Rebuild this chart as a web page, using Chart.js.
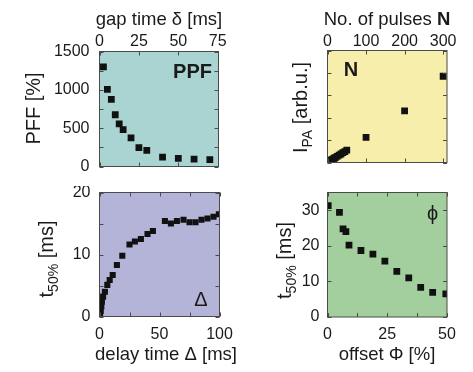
<!DOCTYPE html>
<html>
<head>
<meta charset="utf-8">
<script src="https://cdn.jsdelivr.net/npm/chart.js@4.4.0/dist/chart.umd.min.js"></script>
<style>
  html, body { margin: 0; padding: 0; background: #fff; }
  #wrap { position: relative; width: 473px; height: 372px; }
  canvas { position: absolute; }
</style>
</head>
<body>
<div id="wrap">
  <canvas id="ppfChart" width="240" height="186" style="left:0;top:0"></canvas>
  <canvas id="pulseChart" width="233" height="186" style="left:240px;top:0"></canvas>
  <canvas id="delayChart" width="240" height="186" style="left:0;top:186px"></canvas>
  <canvas id="offsetChart" width="233" height="186" style="left:240px;top:186px"></canvas>
</div>
<script>
// top left: facilitation vs gap time
const gapTime = [2.5, 5, 7.5, 10, 12.5, 15, 20, 25, 30, 40, 50, 60, 70];
const ppfValues = [1300, 1005, 875, 675, 555, 480, 372, 245, 210, 122, 105, 95, 90];
const gapTicks = [0, 25, 50, 75];
const ppfTicks = [0, 250, 500, 750, 1000, 1250, 1500];

// top right: intensity vs number of pulses
const pulseCount = [1, 2, 4, 6, 8, 10, 12, 15, 18, 20, 25, 30, 35, 40, 45, 50, 100, 200, 300];
const pulseIntensity = [0.01, 0.02, 0.04, 0.06, 0.08, 0.1, 0.13, 0.16, 0.2, 0.22, 0.27, 0.33, 0.38, 0.44, 0.49, 0.55, 1.12, 2.3, 3.85];
const pulseTicks = [0, 100, 200, 300];
const intensityTicks = [0, 1, 2, 3, 4, 5];

// bottom left: t50% vs delay time
const delayTime = [0.5, 1, 1.5, 2, 3, 4.5, 6.5, 8.5, 11, 14.5, 19, 25, 29.5, 34.5, 40, 44.5, 54.5, 59.5, 64.5, 70, 75, 80, 85, 90, 95, 99.5];
const t50Delay = [0.5, 0.9, 1.6, 2.4, 3.2, 4.0, 5.1, 5.9, 6.7, 8.3, 9.8, 11.6, 12.1, 12.5, 13.3, 13.8, 15.4, 15.0, 15.4, 15.6, 15.2, 15.2, 15.6, 15.8, 16.1, 16.5];
const delayTicks = [0, 25, 50, 75, 100];
const t50DelayTicks = [0, 5, 10, 15, 20];

// bottom right: t50% vs offset
const offsetPhi = [0.3, 5, 6.5, 7.7, 9, 14, 19, 24, 29, 34, 39, 44, 49.5];
const t50Offset = [31.3, 29.4, 24.8, 24.0, 20.2, 18.7, 17.7, 15.7, 12.8, 11.0, 8.3, 6.9, 6.5];
const offsetTicks = [0, 12.5, 25, 37.5, 50];
const t50OffsetTicks = [0, 10, 20, 30];

const FONT = "'Liberation Sans', Arial, sans-serif";
const textColor = '#1a1a1a';
const tickFont = { family: FONT, size: 16 };
const xTitle = '18.5px ' + FONT;
const yTitle = '20px ' + FONT;
const subFont = '14px ' + FONT;

function drawRich(ctx, item) {
  ctx.save();
  ctx.translate(item.x, item.y);
  if (item.rot) ctx.rotate(-Math.PI / 2);
  ctx.fillStyle = textColor;
  ctx.textBaseline = 'alphabetic';
  ctx.textAlign = 'left';
  let total = 0;
  item.parts.forEach(p => { ctx.font = p.f; total += ctx.measureText(p.t).width; });
  let pos = -total / 2;
  item.parts.forEach(p => {
    ctx.font = p.f;
    ctx.fillText(p.t, pos, p.dy || 0);
    pos += ctx.measureText(p.t).width;
  });
  ctx.restore();
}

const panelPlugin = {
  id: 'panel',
  beforeDraw(chart, args, opts) {
    const { ctx, chartArea: a } = chart;
    ctx.save();
    ctx.fillStyle = opts.bg;
    ctx.fillRect(a.left, a.top, a.right - a.left, a.bottom - a.top);
    ctx.restore();
  },
  afterDatasetsDraw(chart) {
    const { ctx, chartArea: a, scales } = chart;
    const len = 4;
    ctx.save();
    ctx.strokeStyle = '#4a4a4a';
    ctx.lineWidth = 1;
    ctx.beginPath();
    scales.x.ticks.forEach(t => {
      const px = Math.round(scales.x.getPixelForValue(t.value)) + 0.5;
      ctx.moveTo(px, a.top); ctx.lineTo(px, a.top + len);
      ctx.moveTo(px, a.bottom); ctx.lineTo(px, a.bottom - len);
    });
    scales.y.ticks.forEach(t => {
      const py = Math.round(scales.y.getPixelForValue(t.value)) + 0.5;
      ctx.moveTo(a.left, py); ctx.lineTo(a.left + len, py);
      ctx.moveTo(a.right, py); ctx.lineTo(a.right - len, py);
    });
    ctx.stroke();
    ctx.strokeRect(a.left, a.top, a.right - a.left, a.bottom - a.top);
    ctx.restore();
  },
  afterDraw(chart, args, opts) {
    opts.texts.forEach(item => drawRich(chart.ctx, item));
  }
};

function axis(o) {
  const horizontal = o.position === 'top' || o.position === 'bottom';
  return {
    type: 'linear',
    position: o.position,
    bounds: 'data',
    min: o.min,
    max: o.max,
    grid: { display: false, drawTicks: false },
    border: { display: false },
    ticks: {
      display: o.labelEvery !== null,
      autoSkip: false,
      maxRotation: 0,
      padding: o.pad,
      font: tickFont,
      color: textColor,
      callback: v => (o.labelEvery && Math.abs(v % o.labelEvery) < 1e-6 ? v : '')
    },
    afterBuildTicks(s) {
      s.ticks = o.values.map(v => ({ value: v }));
    },
    afterFit(s) {
      if (horizontal) s.height = o.size; else s.width = o.size;
      s.paddingLeft = 0; s.paddingRight = 0; s.paddingTop = 0; s.paddingBottom = 0;
    }
  };
}

function makeChart(id, xs, ys, radius, scales, padding, bg, texts) {
  return new Chart(document.getElementById(id), {
    type: 'scatter',
    data: {
      datasets: [{
        data: xs.map((x, i) => ({ x: x, y: ys[i] })),
        pointStyle: 'rect',
        pointRadius: radius,
        pointBackgroundColor: '#111',
        pointBorderWidth: 0,
        clip: 0
      }]
    },
    options: {
      responsive: false,
      animation: false,
      devicePixelRatio: 1,
      events: [],
      layout: { padding: padding },
      plugins: {
        legend: { display: false },
        tooltip: { enabled: false },
        panel: { bg: bg, texts: texts }
      },
      scales: scales
    },
    plugins: [panelPlugin]
  });
}

makeChart('ppfChart', gapTime, ppfValues, 4.8, {
  x: axis({ position: 'top', min: 0, max: 75.5, values: gapTicks, labelEvery: 25, pad: 0, size: 51.5 }),
  y: axis({ position: 'left', min: 0, max: 1500, values: ppfTicks, labelEvery: 500, pad: 10, size: 99.5 })
}, { left: 0, top: 0, right: 21.5, bottom: 19.5 }, '#a9d4d2', [
  { x: 159, y: 25, parts: [{ t: 'gap time δ [ms]', f: xTitle }] },
  { x: 39.5, y: 108.5, rot: true, parts: [{ t: 'PFF [%]', f: yTitle }] },
  { x: 192.5, y: 77.5, parts: [{ t: 'PPF', f: 'bold 20px ' + FONT }] }
]);

makeChart('pulseChart', pulseCount, pulseIntensity, 4.8, {
  x: axis({ position: 'top', min: 0, max: 310, values: pulseTicks, labelEvery: 100, pad: -1, size: 50.5 }),
  y: axis({ position: 'left', min: 0, max: 5, values: intensityTicks, labelEvery: null, pad: 0, size: 87.5 })
}, { left: 0, top: 0, right: 26, bottom: 23.5 }, '#f6eeaa', [
  { x: 147, y: 25, parts: [{ t: 'No. of pulses ', f: xTitle }, { t: 'N', f: 'bold 18.5px ' + FONT }] },
  { x: 67, y: 107.5, rot: true, parts: [{ t: 'I', f: yTitle }, { t: 'PA', f: subFont, dy: 5 }, { t: ' [arb.u.]', f: yTitle }] },
  { x: 111, y: 75.5, parts: [{ t: 'N', f: 'bold 20px ' + FONT }] }
]);

makeChart('delayChart', delayTime, t50Delay, 4.3, {
  x: axis({ position: 'bottom', min: 0, max: 100, values: delayTicks, labelEvery: 50, pad: 8, size: 55.5 }),
  y: axis({ position: 'left', min: 0, max: 20, values: t50DelayTicks, labelEvery: 10, pad: 9, size: 99.5 })
}, { left: 0, top: 6.5, right: 20.5, bottom: 0 }, '#b4b4d8', [
  { x: 166, y: 174, parts: [{ t: 'delay time Δ [ms]', f: xTitle }] },
  { x: 52.5, y: 73, rot: true, parts: [{ t: 't', f: yTitle }, { t: '50%', f: subFont, dy: 5 }, { t: ' [ms]', f: yTitle }] },
  { x: 201, y: 119.5, parts: [{ t: 'Δ', f: '20px ' + FONT }] }
]);

makeChart('offsetChart', offsetPhi, t50Offset, 4.8, {
  x: axis({ position: 'bottom', min: 0, max: 50, values: offsetTicks, labelEvery: 25, pad: 8, size: 55 }),
  y: axis({ position: 'left', min: 0, max: 35, values: t50OffsetTicks, labelEvery: 10, pad: 8, size: 87.5 })
}, { left: 0, top: 6.5, right: 26, bottom: 0 }, '#a3cf9e', [
  { x: 147, y: 174, parts: [{ t: 'offset Φ [%]', f: xTitle }] },
  { x: 51, y: 74.5, rot: true, parts: [{ t: 't', f: yTitle }, { t: '50%', f: subFont, dy: 5 }, { t: ' [ms]', f: yTitle }] },
  { x: 192.5, y: 34, parts: [{ t: 'ϕ', f: '20px ' + FONT }] }
]);
</script>
</body>
</html>
